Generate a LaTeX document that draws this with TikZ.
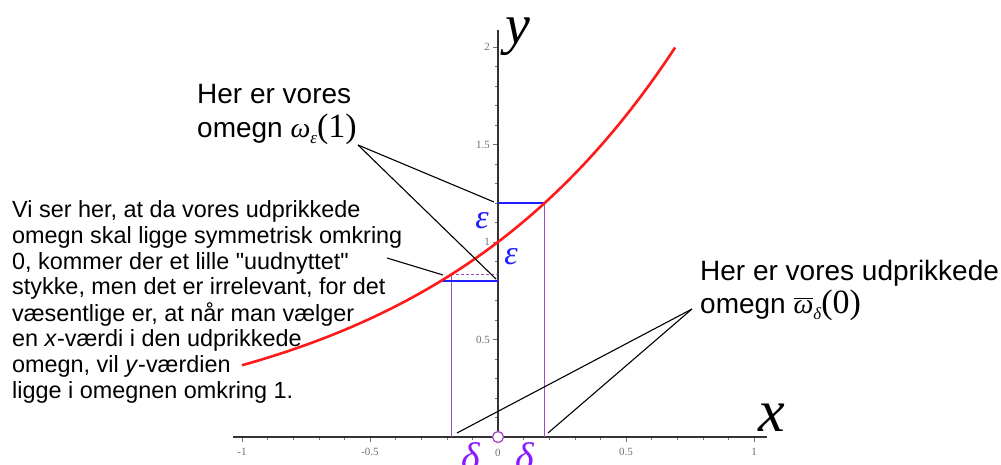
\documentclass[tikz,border=0pt]{standalone}
\usepackage[no-math]{fontspec}
\setmainfont{Liberation Sans}[Ligatures=TeXOff]
\newfontfamily\tnr{Liberation Serif}
\definecolor{curvered}{HTML}{FF1A1A}
\definecolor{epsblue}{HTML}{2020FF}
\definecolor{delpurple}{HTML}{A24BC4}
\definecolor{delviolet}{HTML}{8C1AFF}
\definecolor{axisgray}{HTML}{333333}
\definecolor{tickgray}{HTML}{707070}
\newcommand\gsub[1]{\raisebox{-6pt}{\tnr\itshape\fontsize{17}{17}\selectfont #1}}
\newcommand\bigpar[1]{{\tnr\fontsize{34}{34}\selectfont(#1)}}
\tikzset{
  axisline/.style={axisgray, line width=1.4pt},
  pointer/.style={black, line width=1.1pt},
  bluebar/.style={epsblue, line width=1.6pt},
  purplebar/.style={delpurple, line width=1.5pt},
  ticklab/.style={font=\tnr\fontsize{11}{12}\selectfont, text=tickgray, inner sep=0pt},
  bigtxt/.style={inner sep=0pt, anchor=base west},
}
\begin{document}
\begin{tikzpicture}[x=1pt,y=1pt]
\useasboundingbox[fill=white] (-498,-27) rectangle (503,437);
% ticks
\foreach \i in {-10,...,10}{\draw[tickgray, line width=0.4pt] ({25.6*\i},0) -- ({25.6*\i},-2.5);}
\foreach \i in {-1,-0.5,0.5,1}{\draw[tickgray, line width=0.5pt] ({256*\i},0) -- ({256*\i},-4.5);}
\foreach \i in {1,...,20}{\draw[tickgray, line width=0.4pt] (0,{19.5*\i}) -- (-2.5,{19.5*\i});}
\foreach \i in {0.5,1,1.5,2}{\draw[tickgray, line width=0.5pt] (0,{195*\i}) -- (-4.5,{195*\i});}
% tick labels
\node[ticklab] (tm1) at (-256,-15) {-1};
\node[ticklab] (tm05) at (-128,-15) {-0.5};
\node[ticklab] (t0) at (0,-16) {0};
\node[ticklab] (tp05) at (128,-15) {0.5};
\node[ticklab] (tp1) at (256,-15) {1};
\node[ticklab, anchor=east] (ty05) at (-8,97.5) {0.5};
\node[ticklab, anchor=east] (ty1) at (-8,195) {1};
\node[ticklab, anchor=east] (ty15) at (-8,292.5) {1.5};
\node[ticklab, anchor=east] (ty2) at (-8,390) {2};
% axes
\draw[axisline] (-265,0) -- (269,0);
\draw[axisline] (0,0) -- (0,407);
\node[font=\tnr\itshape\fontsize{60}{60}\selectfont, inner sep=0pt] (xlab) at (274,19) {x};
\node[font=\tnr\itshape\fontsize{56}{56}\selectfont, inner sep=0pt] (ylab) at (20,400) {y};
% key points
\coordinate (A) at (0,234);
\coordinate (B) at (46.67,234);
\coordinate (C) at (-57.12,156);
\coordinate (D) at (0,156);
\coordinate (E) at (-46.67,162.5);
\coordinate (F) at (0,162.5);
\coordinate (Dl) at (-46.67,0);
\coordinate (Dr) at (46.67,0);
% neighbourhoods
\draw[purplebar] (Dr) -- (B);
\draw[purplebar] (Dl) -- (E);
\draw[purplebar, dashed, dash pattern=on 3pt off 2pt, line width=1pt] (E) -- (F);
\draw[bluebar] (A) -- (B);
\draw[bluebar] (C) -- (D);
% curve
\draw[curvered, line width=2.6pt] plot[domain=-1:0.693, samples=100, smooth] ({256*\x},{195*exp(\x)});
% origin circle
\node[circle, draw=delpurple, fill=white, line width=1.3pt, minimum size=11pt, inner sep=0pt] (O) at (0,0) {};
% epsilon / delta labels
\node[text=epsblue, font=\tnr\itshape\fontsize{34}{34}\selectfont, inner sep=0pt] (eps1) at (-16,216) {ε};
\node[text=epsblue, font=\tnr\itshape\fontsize{34}{34}\selectfont, inner sep=0pt] (eps2) at (13,180) {ε};
\node[text=delviolet, font=\tnr\itshape\fontsize{40}{40}\selectfont, inner sep=0pt] (del1) at (-27,-20) {δ};
\node[text=delviolet, font=\tnr\itshape\fontsize{40}{40}\selectfont, inner sep=0pt] (del2) at (27,-20) {δ};
% labels
\node[bigtxt, font=\fontsize{28}{32}\selectfont] (lab1) at (-301,333)
  {\begin{tabular}[t]{@{}l@{}}Her er vores\\ omegn {\tnr\itshape ω}\gsub{ε}\bigpar{1}\end{tabular}};
\node[bigtxt, font=\fontsize{28}{32}\selectfont] (lab3) at (202,157)
  {\begin{tabular}[t]{@{}l@{}}Her er vores udprikkede\\ omegn $\overline{\hbox{\tnr\itshape ω}}$\gsub{δ}\bigpar{0}\end{tabular}};
\node[bigtxt, font=\fontsize{23.4}{25.6}\selectfont] (lab2) at (-486,219)
  {\begin{tabular}[t]{@{}l@{}}Vi ser her, at da vores udprikkede\\ omegn skal ligge symmetrisk omkring\\ 0, kommer der et lille "uudnyttet"\\ stykke, men det er irrelevant, for det\\ væsentlige er, at når man vælger\\ en \textit{x}-værdi i den udprikkede\\ omegn, vil \textit{y}-værdien\\ ligge i omegnen omkring 1.\end{tabular}};
% pointers
\coordinate (p1) at (-140,292);
\coordinate (p2) at (-111,179);
\coordinate (p3) at (194,128);
\draw[pointer] (p1) -- (-4,235);
\draw[pointer] (p1) -- (-2,158);
\draw[pointer] (p2) -- (-55,162);
\draw[pointer] (p3) -- (-41,4);
\draw[pointer] (p3) -- (50,4);
\end{tikzpicture}
\end{document}
